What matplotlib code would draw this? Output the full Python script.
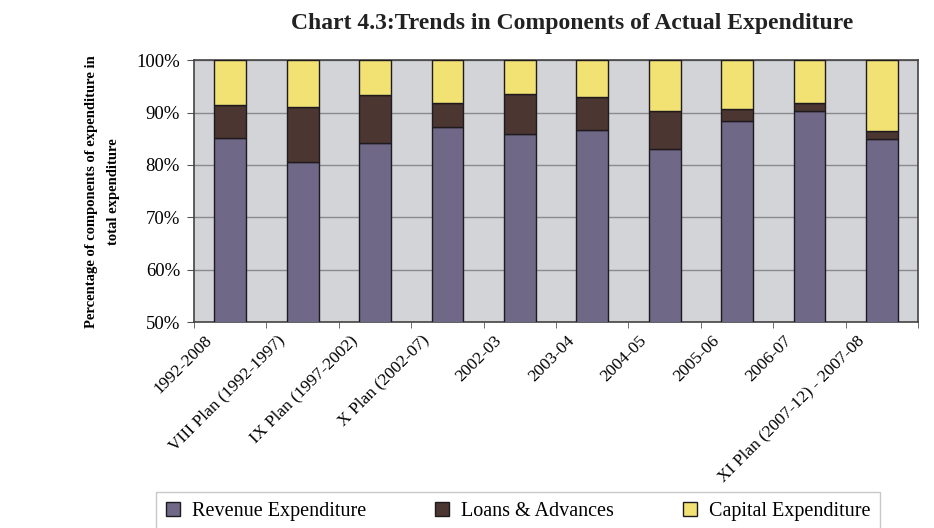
import matplotlib.pyplot as plt
import matplotlib.transforms as mtransforms
import numpy as np
from matplotlib.ticker import FixedLocator, PercentFormatter

plt.rcParams["font.family"] = ["Liberation Serif", "DejaVu Serif"]

categories = [
    "1992-2008",
    "VIII Plan (1992-1997)",
    "IX Plan (1997-2002)",
    "X Plan (2002-07)",
    "2002-03",
    "2003-04",
    "2004-05",
    "2005-06",
    "2006-07",
    "XI Plan (2007-12) - 2007-08",
]
# shares of total expenditure, percent
revenue = [85.1, 80.6, 84.1, 87.3, 85.9, 86.6, 83.0, 88.4, 90.3, 84.9]
loans = [6.3, 10.5, 9.2, 4.6, 7.6, 6.4, 7.3, 2.2, 1.6, 1.5]
capital = [8.6, 8.9, 6.7, 8.1, 6.5, 7.0, 9.7, 9.4, 8.1, 13.6]

col_rev = "#6f6887"
col_loan = "#4b3631"
col_cap = "#f2e273"

fig = plt.figure(figsize=(9.34, 5.28), dpi=100)
ax = fig.add_axes([0.2077, 0.390, 0.7753, 0.496])
ax.set_facecolor("#d3d4d8")

x = np.arange(len(categories))
w = 0.44
rev = np.array(revenue)
lo = np.array(loans)
ca = np.array(capital)
ax.bar(x, rev, w, color=col_rev, edgecolor="#1e1a1e", lw=1, label="Revenue Expenditure", zorder=3)
ax.bar(x, lo, w, bottom=rev, color=col_loan, edgecolor="#1e1a1e", lw=1, label="Loans & Advances", zorder=3)
ax.bar(x, ca, w, bottom=rev + lo, color=col_cap, edgecolor="#1e1a1e", lw=1, label="Capital Expenditure", zorder=3)

ax.set_xlim(-0.5, len(categories) - 0.5)
ax.set_ylim(50, 100)
ax.set_yticks(np.arange(50, 101, 10))
ax.yaxis.set_major_formatter(PercentFormatter(decimals=0))
ax.grid(axis="y", color="#8a8a8e", lw=1, zorder=1)
ax.tick_params(axis="y", labelsize=13.5, length=5, color="#555555", pad=5)

ax.set_xticks(x)
ax.set_xticklabels(categories, rotation=45, ha="right", rotation_mode="anchor", fontsize=12.5)
ax.tick_params(axis="x", which="major", length=0, pad=6)
# shift the rotated labels left, as in the original
shift = mtransforms.ScaledTranslation(-26 / 100, -2 / 100, fig.dpi_scale_trans)
for lbl in ax.get_xticklabels():
    lbl.set_transform(lbl.get_transform() + shift)
ax.xaxis.set_minor_locator(FixedLocator(np.arange(-0.5, len(categories), 1)))
ax.tick_params(axis="x", which="minor", length=4, color="#555555")

for s in ax.spines.values():
    s.set_color("#444444")
    s.set_linewidth(1.2)

ax.set_ylabel("Percentage of components of expenditure in\ntotal expenditure",
              fontsize=10.5, fontweight="bold", labelpad=12, linespacing=1.9)

fig.text(0.613, 0.955, "Chart 4.3:Trends in Components of Actual Expenditure",
         ha="center", va="center", fontsize=17, fontweight="bold", color="#222222")

handles, labels = ax.get_legend_handles_labels()
leg = fig.legend(handles, labels, ncols=3, loc="lower center",
                 bbox_to_anchor=(0.555, -0.025), fontsize=14.5, frameon=True,
                 fancybox=False, edgecolor="#bbbbbb", handlelength=0.7,
                 handleheight=0.7, handletextpad=0.6, columnspacing=3.4, borderpad=0.5)

fig.savefig("out.png", dpi=100)
